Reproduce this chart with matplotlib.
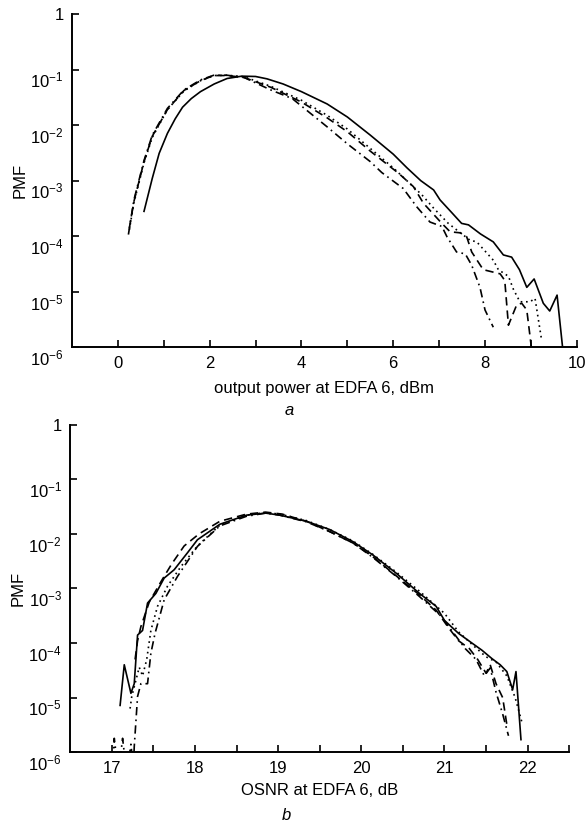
import numpy as np
import matplotlib
matplotlib.use("Agg")
import matplotlib.pyplot as plt
import matplotlib.transforms as mtransforms
from matplotlib.ticker import FixedLocator

plt.rcParams['font.family'] = ['Liberation Sans', 'DejaVu Sans']
plt.rcParams['mathtext.fontset'] = 'custom'
plt.rcParams['mathtext.rm'] = 'Liberation Sans'
plt.rcParams['mathtext.it'] = 'Liberation Sans:italic'

# ---- panel a: output power at EDFA 6 (dBm) vs PMF ----
a_solid_x = [0.57, 0.75, 0.90, 1.08, 1.25, 1.41, 1.60, 1.80, 2.10, 2.38, 2.70, 3.00, 3.25,
             3.60, 4.00, 4.56, 5.00, 5.50, 6.00, 6.30, 6.60, 6.88, 7.02, 7.25, 7.49, 7.64,
             7.90, 8.18, 8.40, 8.58, 8.75, 8.91, 9.07, 9.27, 9.41, 9.57, 9.69, 9.72]
a_solid_y = [2.8e-4, 1.1e-3, 3.1e-3, 7.1e-3, 1.3e-2, 2.1e-2, 3.0e-2, 4.0e-2, 5.5e-2, 6.9e-2,
             7.6e-2, 7.5e-2, 6.8e-2, 5.5e-2, 4.0e-2, 2.4e-2, 1.4e-2, 6.6e-3, 3.0e-3, 1.7e-3,
             1.0e-3, 6.8e-4, 4.5e-4, 2.8e-4, 1.7e-4, 1.6e-4, 1.1e-4, 7.9e-5, 4.6e-5, 4.2e-5,
             2.5e-5, 1.2e-5, 1.7e-5, 6.2e-6, 4.5e-6, 8.7e-6, 1.0e-6, 5.0e-7]

a_dot_x = [0.25, 0.35, 0.57, 0.75, 1.08, 1.44, 1.80, 2.09, 2.38, 2.75, 3.33, 4.00, 4.56,
           5.00, 5.50, 6.00, 6.62, 6.88, 7.20, 7.67, 7.82, 8.18, 8.29, 8.51, 8.62, 8.76,
           8.98, 9.09, 9.23]
a_dot_y = [1.3e-4, 4.0e-4, 2.1e-3, 6.0e-3, 1.9e-2, 4.1e-2, 6.3e-2, 7.8e-2, 7.9e-2, 7.4e-2,
           5.0e-2, 2.8e-2, 1.5e-2, 8.5e-3, 3.8e-3, 1.7e-3, 5.6e-4, 3.2e-4, 1.7e-4, 8.5e-5,
           7.9e-5, 3.7e-5, 2.5e-5, 1.9e-5, 1.1e-5, 6.6e-6, 6.6e-6, 7.6e-6, 1.4e-6]

a_dash_x = [0.25, 0.35, 0.57, 0.75, 1.08, 1.44, 1.80, 2.09, 2.38, 2.75, 3.33, 4.00, 4.56,
            5.00, 5.50, 6.12, 6.44, 6.66, 7.06, 7.24, 7.46, 7.60, 7.71, 7.96, 8.33, 8.43,
            8.51, 8.69, 8.80, 8.91, 9.01, 9.03]
a_dash_y = [1.4e-4, 4.2e-4, 2.2e-3, 6.3e-3, 1.9e-2, 4.2e-2, 6.3e-2, 7.8e-2, 7.8e-2, 7.2e-2,
            4.8e-2, 2.6e-2, 1.35e-2, 7.6e-3, 3.4e-3, 1.35e-3, 7.8e-4, 3.9e-4, 1.7e-4, 1.2e-4,
            1.15e-4, 9.8e-5, 5.2e-5, 2.5e-5, 2.1e-5, 1.6e-5, 2.5e-6, 5.8e-6, 6.2e-6, 4.7e-6,
            1.0e-6, 5.0e-7]

a_dashdot_x = [0.23, 0.35, 0.57, 0.75, 1.08, 1.44, 1.80, 2.09, 2.38, 2.75, 3.33, 3.80, 4.56,
               5.00, 5.50, 5.75, 6.22, 6.51, 6.80, 7.06, 7.17, 7.38, 7.57, 7.71, 7.89, 8.00,
               8.18]
a_dashdot_y = [1.07e-4, 4.5e-4, 2.3e-3, 6.6e-3, 2.0e-2, 4.3e-2, 6.5e-2, 7.9e-2, 7.9e-2, 7.2e-2,
               4.3e-2, 3.0e-2, 9.3e-3, 4.6e-3, 2.2e-3, 1.4e-3, 7.2e-4, 3.4e-4, 1.8e-4, 1.5e-4,
               9.8e-5, 5.2e-5, 4.8e-5, 3.0e-5, 1.2e-5, 4.7e-6, 2.3e-6]

# ---- panel b: OSNR at EDFA 6 (dB) vs PMF ----
b_solid_x = [17.10, 17.15, 17.23, 17.27, 17.31, 17.37, 17.43, 17.53, 17.63, 17.75, 17.91,
             18.03, 18.30, 18.62, 18.85, 19.02, 19.34, 19.62, 19.90, 20.14, 20.42, 20.70,
             20.90, 21.00, 21.17, 21.33, 21.45, 21.57, 21.67, 21.75, 21.82, 21.86, 21.92]
b_solid_y = [7.2e-6, 4.0e-5, 1.2e-5, 1.8e-5, 1.4e-4, 1.7e-4, 5.4e-4, 8.1e-4, 1.55e-3, 2.2e-3,
             4.5e-3, 7.8e-3, 1.5e-2, 2.2e-2, 2.4e-2, 2.2e-2, 1.7e-2, 1.2e-2, 7.2e-3, 4.1e-3,
             1.9e-3, 8.1e-4, 4.7e-4, 2.6e-4, 1.5e-4, 1.0e-4, 7.4e-5, 5.2e-5, 4.0e-5, 3.0e-5,
             1.4e-5, 3.0e-5, 1.7e-6]

b_dash_x = [17.28, 17.31, 17.35, 17.45, 17.60, 17.72, 17.87, 18.05, 18.30, 18.62, 18.85,
            19.05, 19.34, 19.62, 19.90, 20.14, 20.42, 20.70, 20.90, 21.05, 21.17, 21.30,
            21.40, 21.50, 21.55, 21.62, 21.70, 21.75]
b_dash_y = [5.0e-5, 1.1e-4, 2.0e-4, 5.6e-4, 1.4e-3, 2.8e-3, 6.0e-3, 1.0e-2, 1.7e-2, 2.3e-2,
            2.5e-2, 2.3e-2, 1.7e-2, 1.1e-2, 6.8e-3, 3.8e-3, 1.7e-3, 7.6e-4, 4.0e-4, 1.9e-4,
            1.1e-4, 7.9e-5, 5.0e-5, 2.8e-5, 4.0e-5, 1.8e-5, 1.0e-5, 3.2e-6]

b_dot_x = [17.22, 17.24, 17.33, 17.37, 17.42, 17.47, 17.55, 17.67, 17.83, 18.03, 18.30,
           18.62, 18.85, 19.02, 19.34, 19.62, 19.90, 20.14, 20.42, 20.70, 21.00, 21.17,
           21.35, 21.50, 21.62, 21.75, 21.85, 21.93]
b_dot_y = [6.3e-6, 1.05e-5, 3.6e-5, 2.5e-5, 5.0e-5, 1.7e-4, 4.7e-4, 1.1e-3, 2.5e-3, 6.0e-3,
           1.45e-2, 2.2e-2, 2.45e-2, 2.3e-2, 1.75e-2, 1.2e-2, 7.4e-3, 4.2e-3, 2.0e-3, 8.9e-4,
           3.5e-4, 1.6e-4, 8.9e-5, 5.6e-5, 4.5e-5, 2.5e-5, 1.0e-5, 3.6e-6]

b_dashdot_x = [17.00, 17.03, 17.08, 17.13, 17.18, 17.23, 17.26, 17.27, 17.31, 17.35, 17.43,
               17.47, 17.52, 17.63, 17.79, 18.03, 18.30, 18.62, 18.85, 19.02, 19.34, 19.62,
               19.90, 20.14, 20.42, 20.70, 20.95, 21.10, 21.25, 21.38, 21.48, 21.55, 21.62,
               21.70, 21.77]
b_dashdot_y = [3.2e-7, 1.8e-6, 4.0e-7, 1.8e-6, 4.0e-7, 1.4e-6, 5.0e-7, 1.26e-6, 1.05e-5,
               1.8e-5, 1.8e-5, 6.5e-5, 1.5e-4, 6.2e-4, 1.66e-3, 5.9e-3, 1.4e-2, 2.1e-2,
               2.4e-2, 2.2e-2, 1.66e-2, 1.1e-2, 6.8e-3, 3.7e-3, 1.66e-3, 7.1e-4, 3.2e-4,
               1.6e-4, 7.9e-5, 5.0e-5, 2.5e-5, 3.5e-5, 1.26e-5, 5.0e-6, 2.0e-6]

decades = [1e-6, 1e-5, 1e-4, 1e-3, 1e-2, 1e-1, 1]
decade_labels = ['10$^{-6}$', '10$^{-5}$', '10$^{-4}$', '10$^{-3}$',
                 '10$^{-2}$', '10$^{-1}$', '1']

styles = [dict(ls='-'), dict(ls=(0, (1, 2.2))), dict(ls=(0, (5, 3))),
          dict(ls=(0, (5, 2.5, 1, 2.5)))]


def style_axis(fig, ax, xlim, major, minor, xlabel, label_y):
    ax.set_yscale('log')
    ax.set_ylim(1e-6, 1)
    ax.set_xlim(*xlim)
    ax.yaxis.set_major_locator(FixedLocator(decades))
    ax.yaxis.set_minor_locator(FixedLocator([]))
    ax.set_yticklabels(decade_labels)
    ax.xaxis.set_major_locator(FixedLocator(major))
    ax.xaxis.set_minor_locator(FixedLocator(minor))
    for s in ('top', 'right'):
        ax.spines[s].set_visible(False)
    for s in ('left', 'bottom'):
        ax.spines[s].set_linewidth(1.4)
    ax.tick_params(which='both', direction='in', length=5, width=1.2, labelsize=12)
    ax.tick_params(axis='y', pad=6)
    ax.tick_params(axis='x', pad=6)
    # power-of-ten labels sit below their tick, as in the original
    shift = mtransforms.ScaledTranslation(0, -7 / 72, fig.dpi_scale_trans)
    for lab in ax.get_yticklabels():
        if lab.get_text() != '1':
            lab.set_transform(lab.get_transform() + shift)
    ax.set_ylabel('PMF', fontsize=12, labelpad=2)
    ax.set_xlabel(xlabel, fontsize=12, va='center')
    ax.xaxis.set_label_coords(0.5, label_y)


fig = plt.figure(figsize=(5.85, 8.23), dpi=100)
ax1 = fig.add_axes([0.123, 0.578, 0.863, 0.405])
ax2 = fig.add_axes([0.120, 0.086, 0.853, 0.398])

top = [(a_solid_x, a_solid_y), (a_dot_x, a_dot_y), (a_dash_x, a_dash_y),
       (a_dashdot_x, a_dashdot_y)]
bot = [(b_solid_x, b_solid_y), (b_dot_x, b_dot_y), (b_dash_x, b_dash_y),
       (b_dashdot_x, b_dashdot_y)]

for (x, y), st in zip(top, styles):
    ax1.plot(x, y, color='black', lw=1.2, **st)
for (x, y), st in zip(bot, styles):
    ax2.plot(x, y, color='black', lw=1.2, **st)

style_axis(fig, ax1, (-1, 10), [0, 2, 4, 6, 8, 10], [1, 3, 5, 7, 9],
           'output power at EDFA 6, dBm', -41 / 333)
style_axis(fig, ax2, (16.5, 22.5), [17, 18, 19, 20, 21, 22],
           [17.5, 18.5, 19.5, 20.5, 21.5, 22.5], 'OSNR at EDFA 6, dB', -38 / 327)

fig.text(0.495, 1 - 410 / 823, 'a', fontsize=12, style='italic', ha='center', va='center')
fig.text(0.49, 1 - 815 / 823, 'b', fontsize=12, style='italic', ha='center', va='center')

fig.savefig('out.png', dpi=100)
